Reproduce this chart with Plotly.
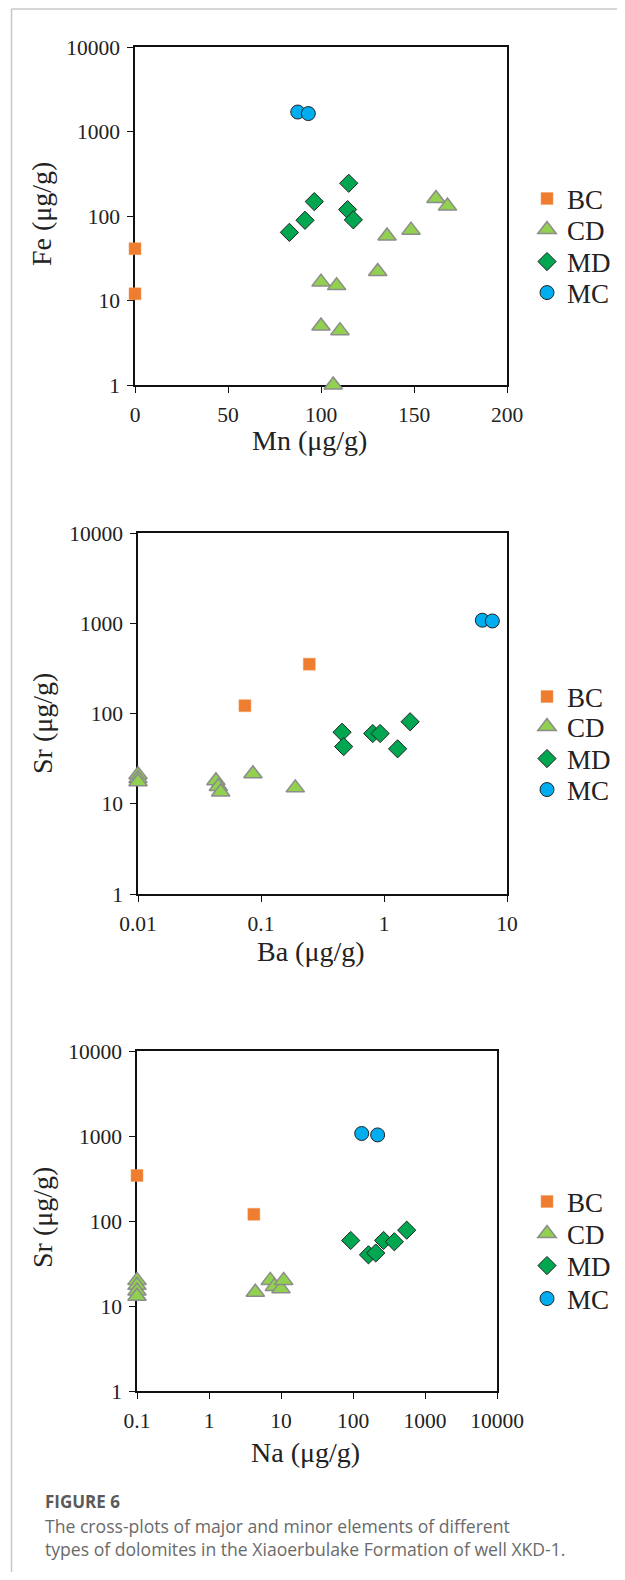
import plotly.graph_objects as go

# page is 625x1580; the browser body has an 8px margin, so the figure is shifted by 8px
OFF = 8
W, H = 625 - OFF, 1580 - 2 * OFF

# ---------------- data ----------------
groups = ["BC", "CD", "MD", "MC"]

# Panel 1: Mn vs Fe
mn_bc = [0, 0]
fe_bc = [41, 12]
mn_cd = [161.8, 168, 135.5, 148.4, 130.5, 100, 108.4, 100, 110.2, 106.6]
fe_cd = [161, 131, 58, 68, 22, 16.5, 15, 5.0, 4.4, 1.0]
mn_md = [83, 91.4, 96.4, 114.9, 114.3, 117.4]
fe_md = [64, 89, 148, 244, 119, 90]
mn_mc = [87.5, 93.2]
fe_mc = [1700, 1630]

# Panel 2: Ba vs Sr
ba_bc = [0.074, 0.247]
sr2_bc = [122, 352]
ba_cd = [0.01, 0.01, 0.01, 0.043, 0.045, 0.047, 0.086, 0.19]
sr2_cd = [21, 19, 17.5, 18, 15.5, 13.5, 21.5, 15]
ba_md = [0.456, 0.47, 0.81, 0.93, 1.29, 1.63]
sr2_md = [62, 43, 60, 60, 40.6, 81]
ba_mc = [6.3, 7.6]
sr2_mc = [1080, 1060]

# Panel 3: Na vs Sr
na_bc = [0.1, 4.2]
sr3_bc = [343, 120]
na_cd = [0.1, 0.1, 0.1, 0.1, 4.4, 7.1, 8.1, 10, 10.9]
sr3_cd = [20, 17.5, 15, 13, 14.5, 20, 17, 16, 20]
na_md = [93, 164, 207, 266, 375, 557]
sr3_md = [59, 40, 42, 59, 57, 78]
na_mc = [132, 220]
sr3_mc = [1070, 1030]

# tick values / labels
mn_ticks = [0, 50, 100, 150, 200]
mn_ticktext = ["0", "50", "100", "150", "200"]
log_y_ticks = [1, 10, 100, 1000, 10000]
log_y_ticktext = ["1", "10", "100", "1000", "10000"]
ba_ticks = [0.01, 0.1, 1, 10]
ba_ticktext = ["0.01", "0.1", "1", "10"]
na_ticks = [0.1, 1, 10, 100, 1000, 10000]
na_ticktext = ["0.1", "1", "10", "100", "1000", "10000"]

x_titles = ["Mn (μg/g)", "Ba (μg/g)", "Na (μg/g)"]
y_titles = ["Fe (μg/g)", "Sr (μg/g)", "Sr (μg/g)"]

# ---------------- styles ----------------
SERIF = "Liberation Serif, Times New Roman, serif"
SANS = "Open Sans, Lato, sans-serif"
styles = {
    "BC": dict(symbol="square", size=12, color="#EE7D2F", line=dict(color="#F29A5C", width=0.5)),
    "CD": dict(symbol="triangle-up", size=16, color="#92D050", line=dict(color="#8C8C8C", width=1.5)),
    "MD": dict(symbol="diamond", size=14, color="#00A650", line=dict(color="#222222", width=1)),
    "MC": dict(symbol="circle", size=14, color="#00AEEF", line=dict(color="#222222", width=1)),
}

def px_x(x):  # page pixel -> paper
    return (x - OFF) / W

def px_y(y):
    return 1 - (y - OFF) / H

panels = [
    dict(x=(135, 507), y=(47, 385), data=[(mn_bc, fe_bc), (mn_cd, fe_cd), (mn_md, fe_md), (mn_mc, fe_mc)],
         xtype="linear", xrange=[0, 200], xt=mn_ticks, xtt=mn_ticktext,
         legend_y=[199, 230, 262, 293], xtitle_y=441, ytitle_y=214),
    dict(x=(138, 507), y=(533, 894), data=[(ba_bc, sr2_bc), (ba_cd, sr2_cd), (ba_md, sr2_md), (ba_mc, sr2_mc)],
         xtype="log", xrange=[-2, 1], xt=ba_ticks, xtt=ba_ticktext,
         legend_y=[697, 727, 759, 790], xtitle_y=952, ytitle_y=724),
    dict(x=(137, 497), y=(1051, 1391), data=[(na_bc, sr3_bc), (na_cd, sr3_cd), (na_md, sr3_md), (na_mc, sr3_mc)],
         xtype="log", xrange=[-1, 4], xt=na_ticks, xtt=na_ticktext,
         legend_y=[1202, 1234, 1266, 1299], xtitle_y=1452, ytitle_y=1218),
]

fig = go.Figure()
layout = dict(
    width=W, height=H,
    margin=dict(l=0, r=0, t=0, b=0, autoexpand=False),
    paper_bgcolor="white", plot_bgcolor="white",
    font=dict(family=SERIF, size=22, color="#222222"),
    showlegend=True,
)
annotations = []
shapes = []

leg_n = 0
for i, p in enumerate(panels):
    k = "" if i == 0 else str(i + 1)
    for j, (g, (xs, ys)) in enumerate(zip(groups, p["data"])):
        st = styles[g]
        leg_n += 1
        leg = "legend" if leg_n == 1 else "legend" + str(leg_n)
        fig.add_trace(go.Scatter(
            x=xs, y=ys, mode="markers", name=g, legend=leg,
            xaxis="x" + k, yaxis="y" + k, cliponaxis=False,
            marker=dict(symbol=st["symbol"], size=st["size"], color=st["color"], line=st["line"]),
        ))
        layout[leg] = dict(
            x=px_x(527), y=px_y(p["legend_y"][j]), xanchor="left", yanchor="middle",
            font=dict(family=SERIF, size=27, color="#222222"),
            bgcolor="rgba(0,0,0,0)", borderwidth=0,
        )
    axis_common = dict(
        showline=True, linecolor="#111111", linewidth=1.6, mirror=True,
        ticks="outside", ticklen=6, tickwidth=1.4, tickcolor="#111111",
        showgrid=False, zeroline=False, layer="below traces", automargin=False,
        tickfont=dict(family=SERIF, size=21.5, color="#222222"),
        ticklabelstandoff=3,
    )
    layout["xaxis" + k] = dict(axis_common, domain=[px_x(p["x"][0]), px_x(p["x"][1])],
                               type=p["xtype"], range=p["xrange"], tickvals=p["xt"], ticktext=p["xtt"],
                               anchor="y" + k)
    layout["yaxis" + k] = dict(axis_common, domain=[px_y(p["y"][1]), px_y(p["y"][0])],
                               type="log", range=[0, 4], tickvals=log_y_ticks, ticktext=log_y_ticktext,
                               anchor="x" + k)
    # axis titles
    xc = (p["x"][0] + p["x"][1]) / 2 - 12
    annotations.append(dict(text=x_titles[i], x=px_x(xc), y=px_y(p["xtitle_y"]), xref="paper", yref="paper",
                            showarrow=False, xanchor="center", yanchor="middle",
                            font=dict(family=SERIF, size=28, color="#222222")))
    annotations.append(dict(text=y_titles[i], x=px_x(42), y=px_y(p["ytitle_y"]), xref="paper", yref="paper",
                            showarrow=False, xanchor="center", yanchor="middle", textangle=-90,
                            font=dict(family=SERIF, size=28, color="#222222")))

# caption
annotations.append(dict(text="<b>FIGURE 6</b>", x=px_x(43), y=px_y(1501), xref="paper", yref="paper",
                        showarrow=False, xanchor="left", yanchor="middle",
                        font=dict(family=SANS, size=17, color="#5a5a5a")))
annotations.append(dict(text="The cross-plots of major and minor elements of different",
                        x=px_x(43), y=px_y(1526), xref="paper", yref="paper",
                        showarrow=False, xanchor="left", yanchor="middle",
                        font=dict(family=SANS, size=17.6, color="#6a6a6a")))
annotations.append(dict(text="types of dolomites in the Xiaoerbulake Formation of well XKD-1.",
                        x=px_x(43), y=px_y(1549), xref="paper", yref="paper",
                        showarrow=False, xanchor="left", yanchor="middle",
                        font=dict(family=SANS, size=17.6, color="#6a6a6a")))

# light card border
border = dict(color="#c8c8c8", width=1.5)
top_y = px_y(9)
shapes.append(dict(type="line", xref="paper", yref="paper", x0=px_x(11.5), x1=px_x(11.5), y0=0, y1=top_y, line=border))
shapes.append(dict(type="line", xref="paper", yref="paper", x0=px_x(621), x1=px_x(621), y0=0, y1=top_y, line=border))
shapes.append(dict(type="line", xref="paper", yref="paper", x0=px_x(11.5), x1=px_x(621), y0=top_y, y1=top_y, line=border))

layout["annotations"] = annotations
layout["shapes"] = shapes
fig.update_layout(**layout)
fig.write_html("out.html")
